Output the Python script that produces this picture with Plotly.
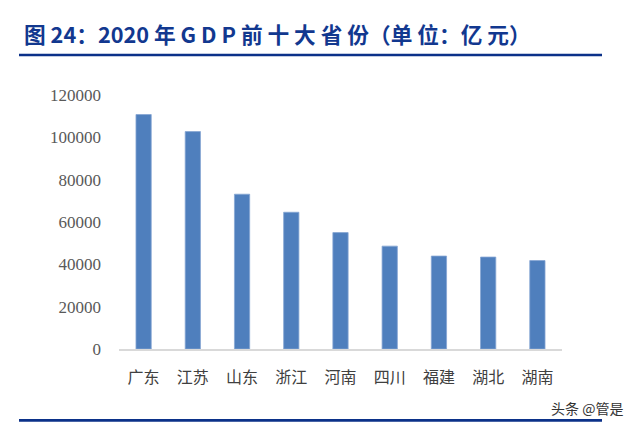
import plotly.graph_objects as go

# 2020 年 GDP 前十大省份（单位：亿元）
provinces = ["广东", "江苏", "山东", "浙江", "河南", "四川", "福建", "湖北", "湖南"]
gdp = [110761, 102719, 73129, 64613, 54997, 48599, 43904, 43443, 41781]
y_ticks = [0, 20000, 40000, 60000, 80000, 100000, 120000]

W, H = 637, 428
L, R, T, B = 119, 562, 94.8, 348.7


def px_x(x):
    return (x - L) / (R - L)


def px_y(y):
    return (B - y) / (B - T)


fig = go.Figure()
fig.add_trace(go.Bar(
    x=provinces,
    y=gdp,
    marker=dict(color="#4f7fbd", line=dict(color="#86a6d3", width=0.8)),
    width=0.31,
    hoverinfo="x+y",
))

fig.update_layout(
    width=W,
    height=H,
    margin=dict(l=L, r=W - R, t=T, b=H - B, pad=0),
    paper_bgcolor="white",
    plot_bgcolor="white",
    showlegend=False,
)

fig.update_xaxes(
    showgrid=False,
    showline=True,
    linecolor="#d9d9d9",
    linewidth=2,
    ticks="",
    ticklabelstandoff=13,
    tickfont=dict(family="Noto Sans CJK SC", size=16, color="#404040"),
)
fig.update_yaxes(
    range=[0, 120000],
    tickvals=y_ticks,
    tickformat="d",
    showgrid=False,
    zeroline=False,
    showline=False,
    ticks="",
    ticklabelstandoff=17,
    tickfont=dict(family="Liberation Serif", size=17, color="#595959"),
)

# title, spaced out like the report heading
fig.add_annotation(
    text="图 24：2020 年 G D P 前 十 大 省 份（单 位：亿 元）",
    xref="paper", yref="paper",
    x=px_x(22), y=px_y(33.5),
    xanchor="left", yanchor="middle",
    showarrow=False,
    font=dict(family="Noto Sans CJK SC", size=21.7, color="#12388f", weight="bold"),
)

# blue rules above and below the chart
for y in (54.8, 420):
    fig.add_shape(
        type="line", xref="paper", yref="paper",
        x0=px_x(19), x1=px_x(602), y0=px_y(y), y1=px_y(y),
        line=dict(color="#0b3189", width=2.6),
    )

fig.add_annotation(
    text="头条 @管是",
    xref="paper", yref="paper",
    x=px_x(625), y=px_y(407.5),
    xanchor="right", yanchor="middle",
    showarrow=False,
    font=dict(family="Noto Sans CJK SC", size=14, color="#333333"),
)

fig.write_html(
    "out.html",
    config={"displayModeBar": False},
    post_script="document.body.style.margin = '0';",
)
